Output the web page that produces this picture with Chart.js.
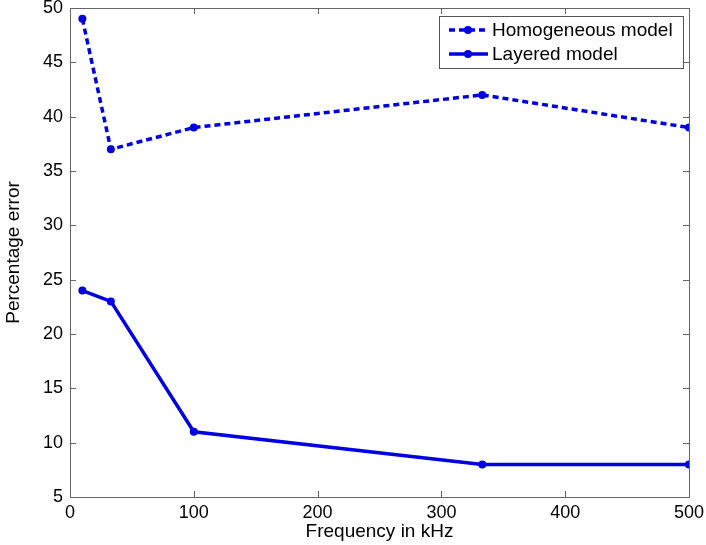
<!DOCTYPE html>
<html>
<head>
<meta charset="utf-8">
<script src="https://cdn.jsdelivr.net/npm/chart.js@4/dist/chart.umd.min.js"></script>
<style>
  body { margin: 0; background: #fff; }
  #wrap { width: 706px; height: 545px; }
</style>
</head>
<body>
<div id="wrap"><canvas id="grafico"></canvas></div>
<script>
const frequencias = [10, 33, 100, 333, 500]
const erro_homogeneo = [49, 37, 39, 42, 39]
const erro_camadas = [24, 23, 11, 8, 8]
const nomes = ['Homogeneous model', 'Layered model']

const azul = '#0000e0'
const fonte = "'Liberation Sans', Arial, sans-serif"

// caixa do grafico com ticks para dentro (estilo matlab)
const caixa = {
    id: 'caixa',
    afterDraw(chart) {
        const ctx = chart.ctx
        const a = chart.chartArea
        const sx = chart.scales.x
        const sy = chart.scales.y
        ctx.save()
        ctx.strokeStyle = '#666'
        ctx.lineWidth = 1
        ctx.strokeRect(a.left + 0.5, a.top + 0.5, a.right - a.left, a.bottom - a.top)
        ctx.beginPath()
        sx.ticks.forEach(t => {
            const px = Math.round(sx.getPixelForValue(t.value)) + 0.5
            ctx.moveTo(px, a.bottom); ctx.lineTo(px, a.bottom - 6)
            ctx.moveTo(px, a.top); ctx.lineTo(px, a.top + 6)
        })
        sy.ticks.forEach(t => {
            const py = Math.round(sy.getPixelForValue(t.value)) + 0.5
            ctx.moveTo(a.left, py); ctx.lineTo(a.left + 6, py)
            ctx.moveTo(a.right, py); ctx.lineTo(a.right - 6, py)
        })
        ctx.stroke()

        // legenda
        const lx = 439, ly = 16, lw = 244, lh = 52
        ctx.fillStyle = '#fff'
        ctx.fillRect(lx, ly, lw, lh)
        ctx.strokeStyle = '#555'
        ctx.strokeRect(lx + 0.5, ly + 0.5, lw, lh)
        chart.data.datasets.forEach((ds, i) => {
            const y = ly + 14 + i * 24
            ctx.strokeStyle = ds.borderColor
            ctx.lineWidth = ds.borderWidth
            ctx.setLineDash(ds.borderDash || [])
            ctx.beginPath()
            ctx.moveTo(449, y); ctx.lineTo(488, y)
            ctx.stroke()
            ctx.setLineDash([])
            ctx.fillStyle = ds.borderColor
            ctx.beginPath()
            ctx.arc(468, y, 4, 0, Math.PI * 2)
            ctx.fill()
            ctx.fillStyle = '#000'
            ctx.font = '19px ' + fonte
            ctx.textBaseline = 'middle'
            ctx.fillText(ds.label, 492, y + 1)
        })
        ctx.restore()
    }
}

const dados = {
    datasets: [
        {
            label: nomes[0],
            data: frequencias.map((f, i) => ({ x: f, y: erro_homogeneo[i] })),
            borderColor: azul,
            backgroundColor: azul,
            borderWidth: 3.5,
            borderDash: [6, 4],
            pointRadius: 4,
            pointBorderWidth: 0,
            tension: 0
        },
        {
            label: nomes[1],
            data: frequencias.map((f, i) => ({ x: f, y: erro_camadas[i] })),
            borderColor: azul,
            backgroundColor: azul,
            borderWidth: 3.5,
            pointRadius: 4,
            pointBorderWidth: 0,
            tension: 0
        }
    ]
}

const config = {
    type: 'line',
    data: dados,
    options: {
        responsive: true,
        maintainAspectRatio: false,
        animation: false,
        layout: { padding: { left: 0, right: 17, top: 8, bottom: 0 } },
        plugins: { legend: { display: false }, tooltip: { enabled: false } },
        scales: {
            x: {
                type: 'linear',
                min: 0, max: 500,
                grid: { display: false, drawTicks: false },
                border: { display: false },
                ticks: { stepSize: 100, color: '#000', font: { family: fonte, size: 18 }, padding: 5, maxRotation: 0 },
                title: { display: true, text: 'Frequency in kHz', color: '#000', font: { family: fonte, size: 19 }, padding: { top: 0, bottom: 2 } },
                afterFit(s) { s.height = 48; s.paddingLeft = 0; s.paddingRight = 0 }
            },
            y: {
                min: 5, max: 50,
                grid: { display: false, drawTicks: false },
                border: { display: false },
                ticks: { stepSize: 5, color: '#000', font: { family: fonte, size: 18 }, padding: 7 },
                title: { display: true, text: 'Percentage error', color: '#000', font: { family: fonte, size: 19 }, padding: { top: 2, bottom: 0 } },
                afterFit(s) { s.width = 70; s.paddingTop = 0; s.paddingBottom = 0 }
            }
        }
    },
    plugins: [caixa]
}

const meuGrafico = new Chart(document.querySelector('#grafico'), config)
</script>
</body>
</html>
